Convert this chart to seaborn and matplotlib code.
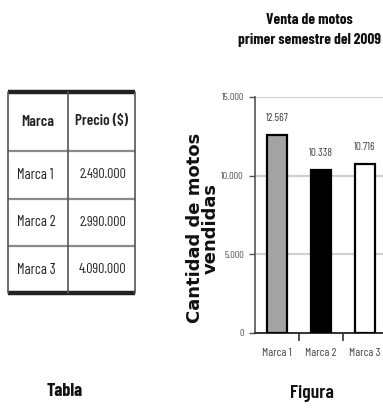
import matplotlib
matplotlib.use("Agg")
import matplotlib.pyplot as plt
import seaborn as sns
import pandas as pd

# Data
marcas = ["Marca 1", "Marca 2", "Marca 3"]
precios = ["2.490.000", "2.990.000", "4.090.000"]
ventas = [12567, 10338, 10716]
colores = ["#a3a3a3", "#000000", "#ffffff"]
yticks = [0, 5000, 10000, 15000]
ytick_labels = ["0", "5.000", "10.000", "15.000"]
encabezados = ["Marca", "Precio ($)"]

sns.set_theme(style="white")
NARROW = ["Barlow Condensed", "DejaVu Sans"]
plt.rcParams["font.family"] = NARROW

W, H = 383, 413
fig = plt.figure(figsize=(W / 100, H / 100), dpi=100)


def fx(px):
    return px / W


def fy(py):
    return 1 - py / H


# ---------- Table ----------
tab = fig.add_axes([0, 0, 1, 1])
tab.set_xlim(0, W)
tab.set_ylim(H, 0)
tab.axis("off")

x0, xm, x1 = 8, 68, 135
row_edges = [92, 151, 199, 246, 293]
txt_col = "#222222"

# header
tab.text((x0 + xm) / 2, (row_edges[0] + row_edges[1]) / 2, encabezados[0],
         ha="center", va="center", fontsize=11, color=txt_col, fontweight=600)
tab.text((xm + x1) / 2, (row_edges[0] + row_edges[1]) / 2, encabezados[1],
         ha="center", va="center", fontsize=11, color=txt_col, fontweight=600)
for i, (m, p) in enumerate(zip(marcas, precios)):
    yc = (row_edges[i + 1] + row_edges[i + 2]) / 2
    tab.text(x0 + 9, yc, m, ha="left", va="center", fontsize=10.5, color=txt_col)
    tab.text((xm + x1) / 2 + 1, yc, p, ha="center", va="center", fontsize=10, color=txt_col)

# grid lines
for y in row_edges[1:-1]:
    tab.plot([x0, x1], [y, y], color="#8a8a8a", lw=1.6, solid_capstyle="butt")
tab.plot([x0, x1], [row_edges[0], row_edges[0]], color="#222222", lw=3.2, solid_capstyle="butt")
tab.plot([x0, x1], [row_edges[-1], row_edges[-1]], color="#222222", lw=3.2, solid_capstyle="butt")
for x in (x0, xm, x1):
    tab.plot([x, x], [row_edges[0], row_edges[-1]], color="#555555", lw=1.2)

fig.text(fx(65), fy(392), "Tabla", ha="center", va="center",
         fontsize=13, fontweight="bold", color="#111111")

# ---------- Bar chart ----------
ax = fig.add_axes([fx(255), fy(333), fx(383) - fx(255), fy(97) - fy(333)])
df = pd.DataFrame({"marca": marcas, "ventas": ventas})
sns.barplot(data=df, x="marca", y="ventas", hue="marca", palette=colores,
            edgecolor="black", linewidth=1.6, width=0.45, legend=False, ax=ax, zorder=3)

ax.set_xlim(-0.5, 2.41)
ax.set_ylim(0, 15000)
ax.set_yticks(yticks)
ax.set_yticklabels(ytick_labels)
ax.yaxis.grid(True, color="#cfcfcf", lw=1.5, zorder=0)
ax.set_axisbelow(True)

for s in ("top", "right"):
    ax.spines[s].set_visible(False)
ax.spines["left"].set_color("#555555")
ax.spines["left"].set_linewidth(1.2)
ax.spines["bottom"].set_color("#333333")
ax.spines["bottom"].set_linewidth(1.4)

ax.tick_params(axis="y", direction="out", length=4, width=1, color="#555555",
               labelsize=7.5, labelcolor="#555555", pad=4, left=True)
ax.set_xticks([0.5, 1.5], minor=True)
ax.tick_params(axis="x", which="major", length=0, labelsize=8.5,
               labelcolor="#444444", pad=11)
ax.tick_params(axis="x", which="minor", direction="out", length=6, width=1.2,
               color="#333333", bottom=True)
ax.set_xlabel("")
ax.set_ylabel("")

for i, v in enumerate(ventas):
    ax.text(i, v + 800, f"{v:,}".replace(",", "."), ha="center", va="bottom",
            fontsize=8, color="#444444")

fig.text(fx(203), fy(228), "Cantidad de motos\nvendidas", rotation=90,
         ha="center", va="center", fontsize=13, fontweight="bold",
         family=["DejaVu Sans"], linespacing=0.8, color="#111111")

fig.text(fx(309), fy(30), "Venta de motos\nprimer semestre del 2009",
         ha="center", va="center", fontsize=11, fontweight="bold",
         linespacing=1.6, color="#111111")
fig.text(fx(312), fy(394), "Figura", ha="center", va="center",
         fontsize=14, fontweight=600, color="#111111")

fig.savefig("out.png", dpi=100)
